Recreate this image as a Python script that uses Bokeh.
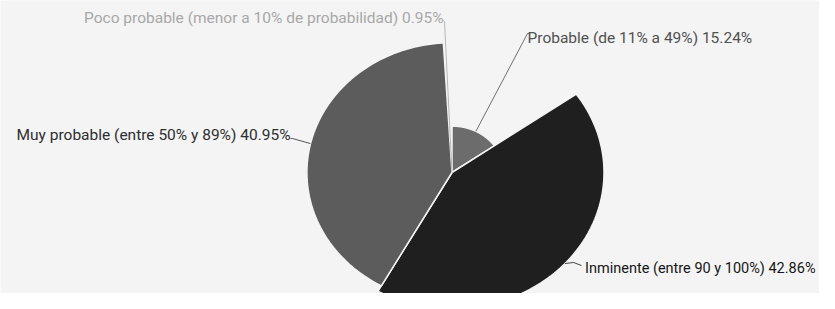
import numpy as np
from bokeh.plotting import figure
from bokeh.models import Range1d
from bokeh.core.properties import value
from bokeh.embed import file_html
from bokeh.resources import INLINE

# ---- data (ECharts-style rose pie, clockwise from 12 o'clock) ----
categories = ["Probable (de 11% a 49%)", "Inminente (entre 90 y 100%)",
              "Muy probable (entre 50% y 89%)", "Poco probable (menor a 10% de probabilidad)"]
values = [15.24, 42.86, 40.95, 0.95]
slice_colors = ["#6c6c6c", "#1f1f1f", "#5c5c5c", "#b4b4b4"]
label_colors = ["#505050", "#161616", "#2e2e2e", "#a8a8a8"]

# ---- layout (pixel space of the picture) ----
CX, CY, RX, RY = 451.5, 172.0, 152.0, 136.0
# label text anchors, alignment and size
label_pos = [(527, 37, "left"), (815, 268, "right"), (290, 134, "right"), (443, 17, "right")]
label_size = ["15.5px", "14.5px", "15.5px", "15.5px"]
# elbow points of label lines
label_elbow = [(527, 33), (573, 262), (292, 138), (444, 21)]
label_end = [(529, 33), (581, 265), (290, 138), (443, 20)]

W, H = 819, 293
p = figure(width=W, height=H, output_backend="svg", toolbar_location=None,
           x_range=Range1d(0, W), y_range=Range1d(H, 0), min_border=0)
p.axis.visible = False
p.grid.visible = False
p.outline_line_color = None
p.background_fill_color = "#f4f4f4"
p.border_fill_color = "#f4f4f4"

vals = np.array(values)
total = vals.sum()
vmin, vmax = vals.min(), vals.max()
fracs = (vals - vmin) / (vmax - vmin)
ends = np.cumsum(vals) / total * 2 * np.pi
starts = np.concatenate([[0], ends[:-1]])

xs, ys, edge_pts = [], [], []
for s, e, f in zip(starts, ends, fracs):
    t = np.linspace(s, e, 200)
    px = np.concatenate([[CX], CX + RX * f * np.sin(t), [CX]])
    py = np.concatenate([[CY], CY - RY * f * np.cos(t), [CY]])
    xs.append(list(px))
    ys.append(list(py))
    m = (s + e) / 2
    edge_pts.append((CX + RX * f * np.sin(m), CY - RY * f * np.cos(m)))

p.patches(xs, ys, fill_color=slice_colors, line_color="#f4f4f4", line_width=1.5)

# label lines
for i in range(len(values)):
    ex, ey = edge_pts[i]
    bx, by = label_elbow[i]
    qx, qy = label_end[i]
    p.line([ex, bx, qx], [ey, by, qy], line_color=label_colors[i], line_width=1, line_alpha=0.8)

# labels
for i, (c, v) in enumerate(zip(categories, values)):
    lx, ly, al = label_pos[i]
    p.text(x=[lx], y=[ly], text=[f"{c} {v:.2f}%"], text_font=value("Roboto"),
           text_font_size=label_size[i], text_color=label_colors[i], text_align=al,
           text_baseline="middle")

open("out.html", "w").write(file_html(p, INLINE))
